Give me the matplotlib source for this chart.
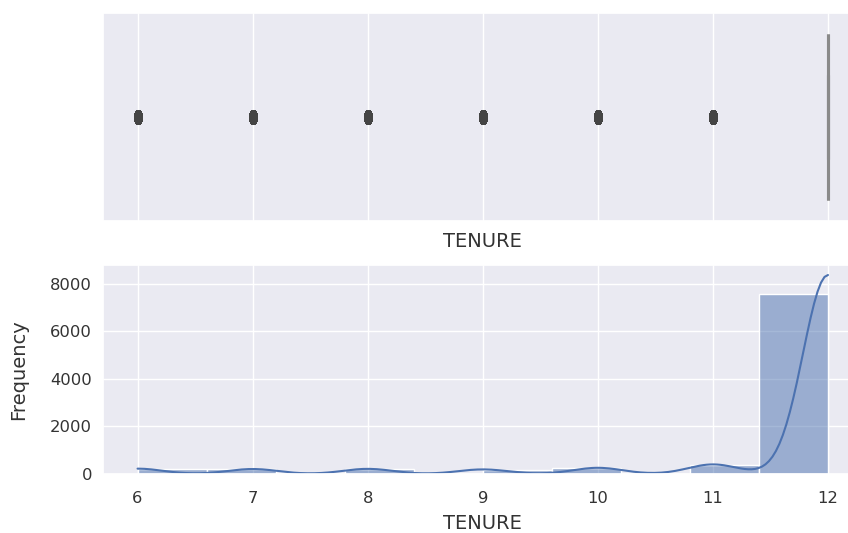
import numpy as np
import pandas as pd
import matplotlib
matplotlib.use("Agg")
import matplotlib.pyplot as plt
from matplotlib.path import Path
import seaborn as sns

sns.set_theme()
plt.rcParams.update({
    "xtick.labelsize": 11.8,
    "ytick.labelsize": 11.8,
    "axes.labelsize": 14.0,
    "text.color": ".2",
    "axes.labelcolor": ".2",
    "xtick.color": ".2",
    "ytick.color": ".2",
})

# Customer tenure (months) and how many customers have each value
tenure_values = [6, 7, 8, 9, 10, 11, 12]
tenure_counts = [204, 190, 196, 175, 236, 365, 7584]

tenure = pd.Series(np.repeat(tenure_values, tenure_counts), name="TENURE")

fig = plt.figure(figsize=(8.48, 5.33), dpi=100)
ax_box = fig.add_axes([0.1215, 0.5854, 0.8956, 0.390])
ax_hist = fig.add_axes([0.1215, 0.1107, 0.8956, 0.392], sharex=ax_box)

# Tall oval marker for the outliers
theta = np.linspace(0, 2 * np.pi, 48)
oval = Path(np.column_stack([0.58 * np.cos(theta), np.sin(theta)]), closed=True)

line_gray = "#8a8a8a"
sns.boxplot(
    x=tenure, ax=ax_box, linecolor=line_gray, linewidth=2.2,
    flierprops=dict(marker=oval, markerfacecolor="#454545",
                    markeredgecolor="#454545", markersize=10,
                    markeredgewidth=0.3),
    medianprops=dict(color=line_gray),
)
ax_box.tick_params(axis="x", labelbottom=False)
ax_box.set_xlabel("TENURE", labelpad=8)

sns.histplot(tenure, bins=10, kde=True, ax=ax_hist)
ax_hist.set_ylabel("Frequency", labelpad=16)
ax_hist.set_xlabel("TENURE", labelpad=6)
ax_hist.tick_params(axis="y", pad=2)
ax_hist.tick_params(axis="x", pad=6)

fig.savefig("out.png", dpi=100)
